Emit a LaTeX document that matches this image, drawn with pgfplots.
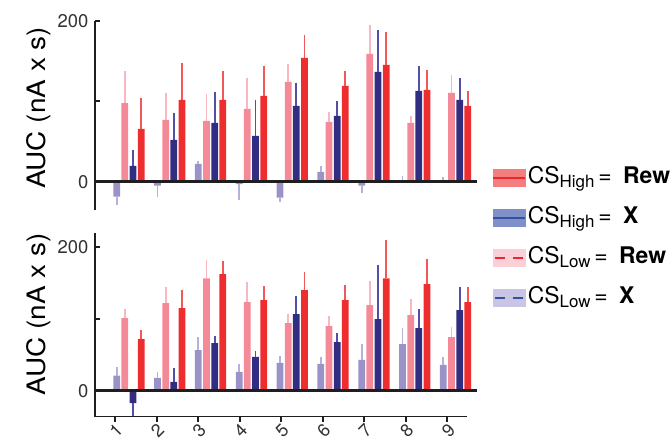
\documentclass[border=0pt]{standalone}
\usepackage{pgfplots}
\pgfplotsset{compat=1.18}
\usepackage{pgfplotstable}
\usepackage{fontspec}
\setmainfont{TeX Gyre Heros}
\usepackage{graphicx}

\definecolor{cLowX}{HTML}{9B92C8}
\definecolor{cLowR}{HTML}{F48A98}
\definecolor{cHighX}{HTML}{312D80}
\definecolor{cHighR}{HTML}{EE2D2F}
\definecolor{eLowX}{HTML}{B6B0DC}
\definecolor{eLowR}{HTML}{F8B8C2}
\definecolor{eHighX}{HTML}{5250A4}
\definecolor{eHighR}{HTML}{F25858}
\definecolor{lgHR}{HTML}{F47E7E}
\definecolor{lgHX}{HTML}{8090C8}
\definecolor{lgLR}{HTML}{F9D0D8}
\definecolor{lgLX}{HTML}{C9C5E5}
\definecolor{lnR}{HTML}{E8282A}
\definecolor{lnB}{HTML}{3550A0}
\definecolor{axc}{HTML}{1E1E1E}

\newcommand{\sub}[1]{\raisebox{-0.35ex}{\fontsize{17}{19}\selectfont #1}}

% top panel
\pgfplotstableread{
g v p m
1 -18.3 0 11
2 -4.6 0 14
3 22.4 3 0
4 -2.9 0 20
5 -19.5 0 6
6 12.4 7 0
7 -4.6 0 9
8 0.6 7 0
9 0.5 5 0
}\topLX
\pgfplotstableread{
g v p m
1 97.8 40 0
2 77.0 34 0
3 75.8 33 0
4 90.7 38 0
5 124.2 22 0
6 74.5 12 0
7 159.0 36 0
8 73.3 8 0
9 110.6 22 0
}\topLR
\pgfplotstableread{
g v p m
1 19.9 20 0
2 52.2 34 0
3 73.3 38 0
4 57.1 45 0
5 94.4 29 0
6 82.0 18 0
7 136.6 52 0
8 113.0 31 0
9 101.9 27 0
}\topHX
\pgfplotstableread{
g v p m
1 65.8 38 0
2 101.9 46 0
3 101.9 36 0
4 106.8 37 0
5 154.0 28 0
6 119.3 19 0
7 145.3 41 0
8 114.3 25 0
9 94.4 19 0
}\topHR
% bottom panel
\pgfplotstableread{
g v p m
1 21.2 12 0
2 18.0 8 0
3 56.8 18 0
4 26.3 11 0
5 38.8 9 0
6 37.4 10 0
7 43.0 22 0
8 65.1 22 0
9 36.0 11 0
}\botLX
\pgfplotstableread{
g v p m
1 101.2 13 0
2 122.0 22 0
3 156.6 25 0
4 123.4 28 0
5 94.2 12 0
6 90.1 14 0
7 119.2 33 0
8 105.3 23 0
9 74.8 14 0
}\botLR
\pgfplotstableread{
g v p m
1 -17.1 0 19
2 12.5 19 0
3 66.5 10 0
4 47.1 8 0
5 106.7 25 0
6 67.9 12 0
7 99.8 75 0
8 87.3 26 0
9 112.3 32 0
}\botHX
\pgfplotstableread{
g v p m
1 72.1 13 0
2 115.0 25 0
3 162.2 18 0
4 126.1 20 0
5 140.0 25 0
6 126.1 21 0
7 156.6 53 0
8 148.3 35 0
9 123.4 21 0
}\botHR

\pgfplotsset{
 panel/.style={
  scale only axis, width=382bp,
  xmin=0.469, xmax=9.824,
  axis y line*=left, axis x line*=bottom,
  axis line style={line width=2.4bp, color=axc, -},
  x axis line style={draw=none},
  ytick={0,100,200}, yticklabels={0,,200},
  ytick align=inside,
  major tick length=5bp,
  every tick/.style={line width=2bp, axc},
  ylabel={\scalebox{1.1}[1]{AUC (nA x s)}},
  ylabel style={font=\fontsize{25.5}{29}\selectfont},
  yticklabel style={font=\fontsize{18.5}{21}\selectfont, color=black!80, xshift=-3bp},
  /pgf/number format/assume math mode=true,
  ybar, bar width=0.165,
  error bars/y dir=both, error bars/y explicit, error bars/error mark=none,
 },
 sLX/.style={fill=cLowX, draw=none, bar shift=0, error bars/error bar style={draw=eLowX, line width=1.8bp}},
 sLR/.style={fill=cLowR, draw=none, bar shift=0.2, error bars/error bar style={draw=eLowR, line width=1.8bp}},
 sHX/.style={fill=cHighX, draw=none, bar shift=0.4, error bars/error bar style={draw=eHighX, line width=1.8bp}},
 sHR/.style={fill=cHighR, draw=none, bar shift=0.6, error bars/error bar style={draw=eHighR, line width=1.8bp}},
}

\begin{document}
\begin{tikzpicture}
\path[use as bounding box] (0,0) rectangle (672bp,-441bp);
\begin{axis}[panel, at={(95bp,-21bp)}, anchor=north west, height=189bp,
  ymin=-35, ymax=200, xtick=\empty,
  ylabel style={at={(ticklabel cs:0.54)}},
  legend style={at={(1.039,0.233)}, anchor=north west, draw=none, fill=none,
    inner sep=0pt, row sep=16bp, font=\fontsize{23}{27}\selectfont,
    nodes={inner sep=1.5bp, text height=16bp, text depth=5bp}},
  legend cell align=left]
\addlegendimage{legend image code/.code={\fill[lgHR] (0bp,-8.5bp) rectangle (32bp,8.5bp); \draw[line width=2.2bp, lnR] (0bp,0bp) -- (32bp,0bp);}}
\addlegendimage{legend image code/.code={\fill[lgHX] (0bp,-8.5bp) rectangle (32bp,8.5bp); \draw[line width=2.2bp, lnB] (0bp,0bp) -- (32bp,0bp);}}
\addlegendimage{legend image code/.code={\fill[lgLR] (0bp,-8.5bp) rectangle (32bp,8.5bp); \draw[line width=2.2bp, lnR, dash pattern=on 10bp off 8bp] (2bp,0bp) -- (32bp,0bp);}}
\addlegendimage{legend image code/.code={\fill[lgLX] (0bp,-8.5bp) rectangle (32bp,8.5bp); \draw[line width=2.2bp, lnB, dash pattern=on 10bp off 8bp] (2bp,0bp) -- (32bp,0bp);}}
\legend{CS\sub{High}\,=\enspace\textbf{Rew}, CS\sub{High}\,=\enspace\textbf{X}, CS\sub{Low}\,=\enspace\textbf{Rew}, CS\sub{Low}\,=\enspace\textbf{X}}
\addplot[sLX] table[x=g, y=v, y error plus=p, y error minus=m] {\topLX};
\addplot[sLR] table[x=g, y=v, y error plus=p, y error minus=m] {\topLR};
\addplot[sHX] table[x=g, y=v, y error plus=p, y error minus=m] {\topHX};
\addplot[sHR] table[x=g, y=v, y error plus=p, y error minus=m] {\topHR};
\draw[line width=3bp, axc] (axis cs:0.469,0) -- (axis cs:9.824,0);
\end{axis}

\begin{axis}[panel, at={(95bp,-232.7bp)}, anchor=north west, height=184bp,
  ymin=-36, ymax=220,
  ylabel style={at={(ticklabel cs:0.555)}},
  xtick={0.958,1.976,2.993,4.010,5.028,6.045,7.063,8.080,9.097},
  xticklabels={1,2,3,4,5,6,7,8,9},
  xtick align=outside,
  xticklabel style={rotate=45, anchor=north east, inner sep=0.5bp, font=\fontsize{18}{20}\selectfont, color=black!80}]
\addplot[sLX] table[x=g, y=v, y error plus=p, y error minus=m] {\botLX};
\addplot[sLR] table[x=g, y=v, y error plus=p, y error minus=m] {\botLR};
\addplot[sHX] table[x=g, y=v, y error plus=p, y error minus=m] {\botHX};
\addplot[sHR] table[x=g, y=v, y error plus=p, y error minus=m] {\botHR};
\draw[line width=3bp, axc] (axis cs:0.469,0) -- (axis cs:9.824,0);
\draw[line width=2.4bp, axc] (axis cs:0.469,-36) -- (axis cs:9.572,-36);
\end{axis}
\end{tikzpicture}
\end{document}
